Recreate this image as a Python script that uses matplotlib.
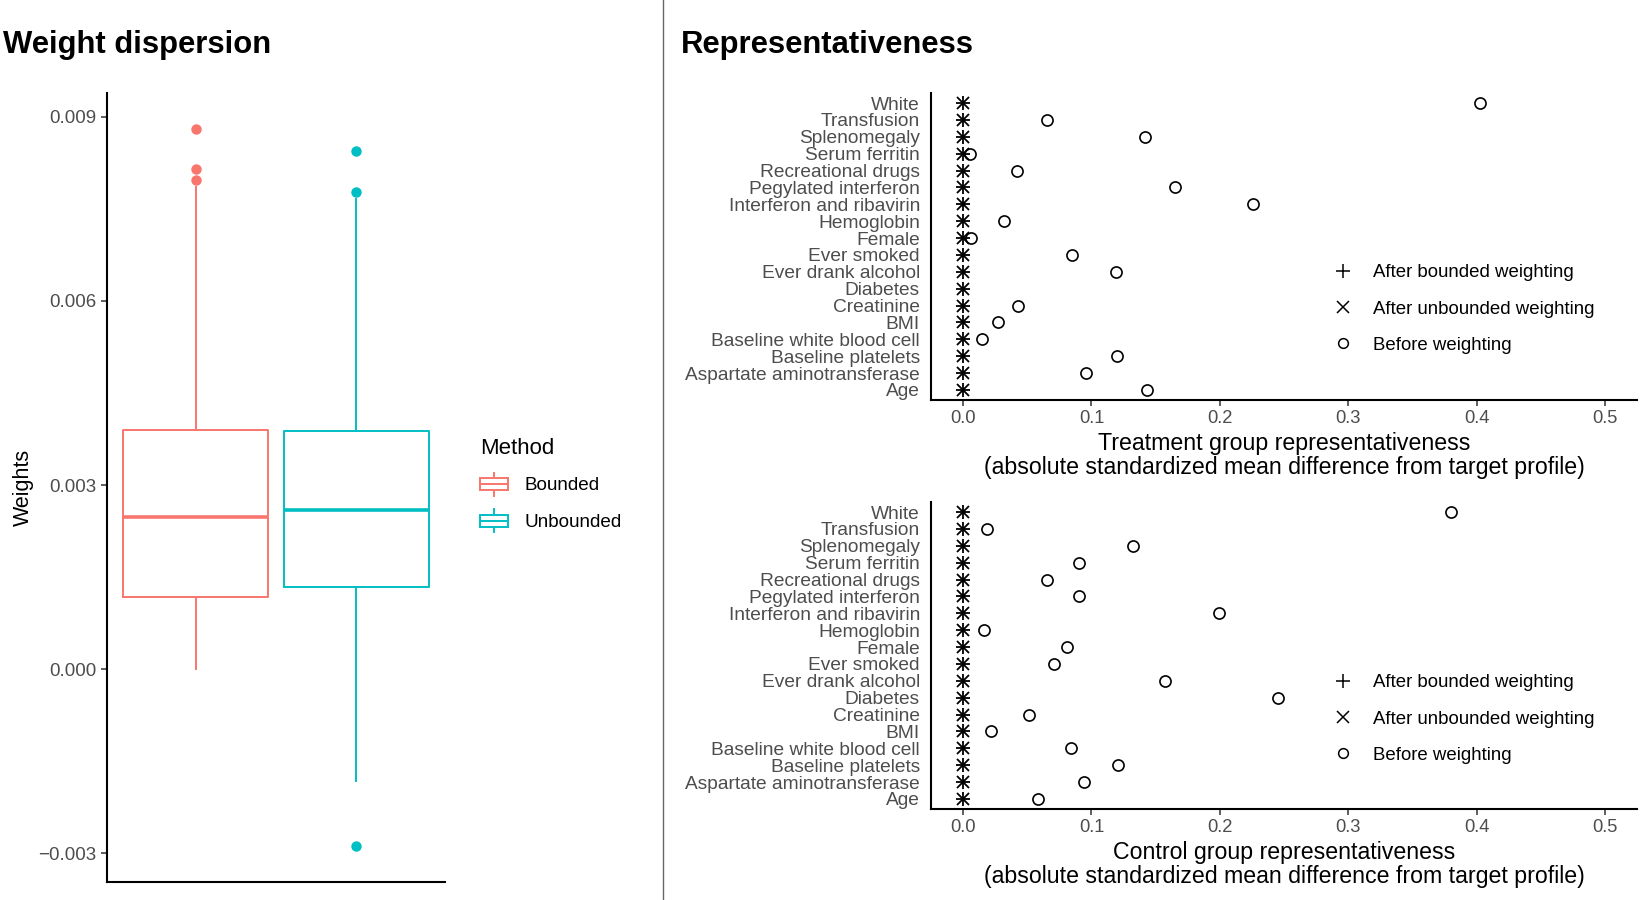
import numpy as np
import matplotlib
matplotlib.use("Agg")
import matplotlib.pyplot as plt
from matplotlib import font_manager
from matplotlib.lines import Line2D
from matplotlib.patches import Patch, Rectangle
from matplotlib.legend_handler import HandlerBase


# weights box plot
methods = ["Bounded", "Unbounded"]
q1 = [0.00117, 0.00134]
med = [0.00248, 0.00259]
q3 = [0.00389, 0.00388]
whislo = [0.0, -0.00182]
whishi = [0.00786, 0.00766]
fliers_bounded = [0.00881, 0.00815, 0.00797]
fliers_unbounded = [0.00844, 0.00778, -0.00289]
weight_ticks = [-0.003, 0.0, 0.003, 0.006, 0.009]

# covariates, top to bottom
covariates = ["White", "Transfusion", "Splenomegaly", "Serum ferritin",
              "Recreational drugs", "Pegylated interferon", "Interferon and ribavirin",
              "Hemoglobin", "Female", "Ever smoked", "Ever drank alcohol", "Diabetes",
              "Creatinine", "BMI", "Baseline white blood cell", "Baseline platelets",
              "Aspartate aminotransferase", "Age"]

# Diabetes has no visible circle in the treatment panel
treat_before = [0.403, 0.065, 0.142, 0.005, 0.042, 0.165, 0.226, 0.032, 0.006, 0.085,
                0.119, np.nan, 0.043, 0.027, 0.015, 0.120, 0.096, 0.143]
treat_bounded = [0.0] * 18
treat_unbounded = [0.0] * 18

ctrl_before = [0.380, 0.019, 0.132, 0.090, 0.065, 0.090, 0.199, 0.016, 0.081, 0.071,
               0.157, 0.245, 0.051, 0.022, 0.084, 0.121, 0.094, 0.058]
ctrl_bounded = [0.0] * 18
ctrl_unbounded = [0.0] * 18

x_ticks = [0.0, 0.1, 0.2, 0.3, 0.4, 0.5]

red = "#F8766D"
cyan = "#00BFC4"
gray30 = "#4D4D4D"


def has_font(name):
    try:
        font_manager.findfont(font_manager.FontProperties(family=name), fallback_to_default=False)
        return True
    except ValueError:
        return False


plt.rcParams["font.family"] = ["Liberation Sans", "DejaVu Sans"]
if has_font("Liberation Sans Narrow"):
    narrow = ["Liberation Sans Narrow", "Liberation Sans"]
    k = 1.0
else:
    narrow = ["Liberation Sans", "DejaVu Sans"]
    k = 0.84

fig = plt.figure(figsize=(16.5, 9), dpi=100)
W, H = 1650.0, 900.0


def px_axes(left, top, right, bottom):
    return fig.add_axes([left / W, 1 - bottom / H, (right - left) / W, (bottom - top) / H])


# ---------------- left: weight dispersion ----------------
ax = px_axes(107, 93, 445, 882)
stats = []
fl = [fliers_bounded, fliers_unbounded]
for i in range(2):
    stats.append(dict(med=med[i], q1=q1[i], q3=q3[i], whislo=whislo[i], whishi=whishi[i],
                      fliers=fl[i], label=methods[i]))
colors = [red, cyan]
for i in range(2):
    ax.bxp([stats[i]], positions=[i + 1], widths=0.9, showcaps=False,
           boxprops=dict(color=colors[i], lw=1.4),
           whiskerprops=dict(color=colors[i], lw=1.4),
           medianprops=dict(color=colors[i], lw=2.6),
           flierprops=dict(marker="o", markerfacecolor=colors[i], markeredgecolor="none",
                           markersize=7.5))
ax.set_xlim(0.45, 2.55)
ax.set_ylim(-0.00347, 0.00939)
ax.set_yticks(weight_ticks)
ax.set_yticklabels([("%.3f" % v).replace("-", "\u2212") for v in weight_ticks])
ax.set_xticks([])
ax.tick_params(axis="y", length=4.5, width=1.1, pad=3, labelsize=13.5, labelcolor=gray30,
               color="#333333")
for s in ["top", "right"]:
    ax.spines[s].set_visible(False)
for s in ["left", "bottom"]:
    ax.spines[s].set_linewidth(1.5)
ax.set_ylabel("Weights", fontsize=15.5, labelpad=3)


class BoxHandle(HandlerBase):
    def create_artists(self, legend, orig_handle, xdescent, ydescent, width, height,
                       fontsize, trans):
        c = orig_handle.get_edgecolor()
        x0, y0 = -xdescent, -ydescent
        art = [Rectangle((x0, y0 + 0.23 * height), width, 0.54 * height, fill=False,
                         edgecolor=c, lw=1.4, transform=trans),
               Line2D([x0, x0 + width], [y0 + 0.5 * height] * 2, color=c, lw=1.4,
                      transform=trans),
               Line2D([x0 + width / 2] * 2, [y0, y0 + 0.23 * height], color=c, lw=1.4,
                      transform=trans),
               Line2D([x0 + width / 2] * 2, [y0 + 0.77 * height, y0 + height], color=c,
                      lw=1.4, transform=trans)]
        return art


handles = [Patch(edgecolor=red, facecolor="none"), Patch(edgecolor=cyan, facecolor="none")]
leg = ax.legend(handles, methods, title="Method", handler_map={Patch: BoxHandle()},
                loc="upper left", bbox_to_anchor=(480 / W, 1 - 438 / H),
                bbox_transform=fig.transFigure, frameon=False, fontsize=13.6,
                title_fontsize=16, handlelength=1.5, handleheight=1.5,
                handletextpad=0.85, labelspacing=0.72, borderpad=0, borderaxespad=0)
leg._legend_box.align = "left"

# ---------------- right: representativeness ----------------
ypos = np.arange(len(covariates), 0, -1)


def rep_panel(top, bottom, before, bounded, unbounded, title, leg_y):
    a = px_axes(931, top, 1637, bottom)
    a.plot(before, ypos, "o", ms=8, mfc="none", mec="black", mew=1.2, ls="none")
    a.plot(bounded, ypos, "+", ms=10, mec="black", mew=1.3, ls="none")
    a.plot(unbounded, ypos, "x", ms=8.5, mec="black", mew=1.3, ls="none")
    a.set_xlim(-0.025, 0.525)
    a.set_ylim(0.4, len(covariates) + 0.6)
    a.set_yticks(ypos)
    a.set_yticklabels(covariates, family=narrow, fontsize=16.4 * k, color=gray30)
    a.set_xticks(x_ticks)
    a.set_xticklabels(["%.1f" % v for v in x_ticks], family=narrow, fontsize=15.8 * k,
                      color=gray30)
    a.tick_params(axis="y", length=0, pad=8)
    a.tick_params(axis="x", length=4, width=1.1, pad=3, color="#333333")
    for s in ["top", "right"]:
        a.spines[s].set_visible(False)
    for s in ["left", "bottom"]:
        a.spines[s].set_linewidth(1.5)
    a.set_xlabel(title, family=narrow, fontsize=19.8 * k, linespacing=1.05, labelpad=4)
    lh = [Line2D([], [], marker="+", ms=10, mec="black", mew=1.1, ls="none"),
          Line2D([], [], marker="x", ms=8, mec="black", mew=1.1, ls="none"),
          Line2D([], [], marker="o", ms=7, mfc="none", mec="black", mew=1.1, ls="none")]
    a.legend(lh, ["After bounded weighting", "After unbounded weighting", "Before weighting"],
             loc="center left", bbox_to_anchor=(1334 / W, 1 - leg_y / H),
             bbox_transform=fig.transFigure, frameon=False, fontsize=13.4,
             handlelength=1.0, handletextpad=1.1, labelspacing=1.03, borderpad=0,
             borderaxespad=0)
    return a


rep_panel(93, 400, treat_before, treat_bounded, treat_unbounded,
          "Treatment group representativeness\n(absolute standardized mean difference from target profile)",
          309)
rep_panel(502, 809, ctrl_before, ctrl_bounded, ctrl_unbounded,
          "Control group representativeness\n(absolute standardized mean difference from target profile)",
          719)

# titles and divider
fig.text(3 / W, 1 - 52.5 / H, "Weight dispersion", fontsize=22.3, fontweight="bold",
         va="baseline", ha="left")
fig.text(681 / W, 1 - 52.5 / H, "Representativeness", fontsize=22.3, fontweight="bold",
         va="baseline", ha="left")
fig.add_artist(Line2D([663 / W, 663 / W], [0, 1], transform=fig.transFigure,
                      color="#666666", lw=1.0))

fig.savefig("out.png", dpi=100)
